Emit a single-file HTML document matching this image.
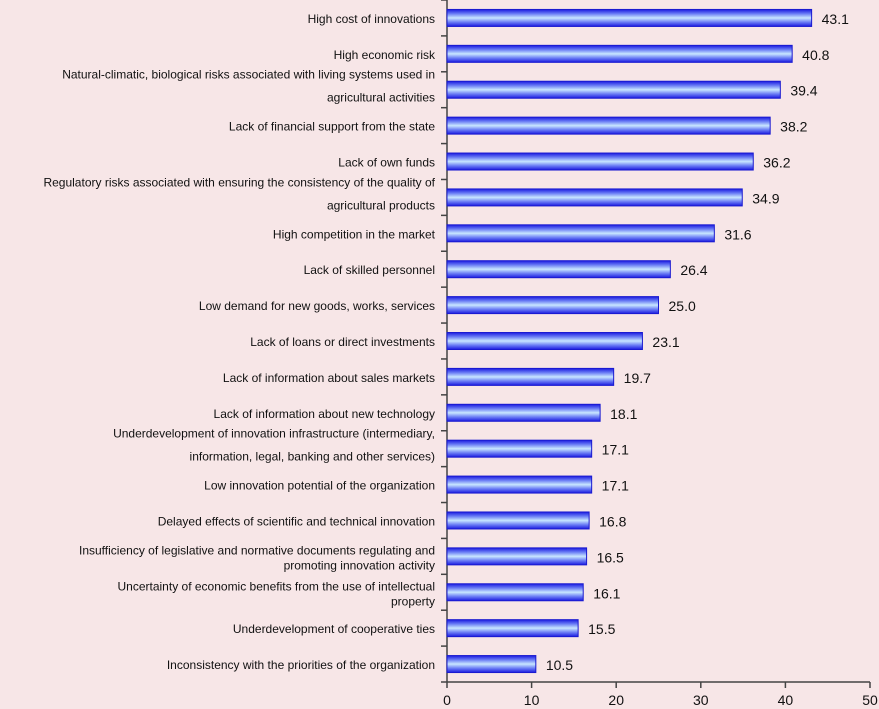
<!DOCTYPE html>
<html><head><meta charset="utf-8"><style>
html,body{margin:0;padding:0;background:#f7e6e7;}
svg{display:block;font-family:"Liberation Sans",Arial,sans-serif;}
</style></head><body>
<svg id="chart" width="879" height="709">
<defs>
<linearGradient id="bg" x1="0" y1="0" x2="0" y2="1">
<stop offset="0" stop-color="#1a1ae0"/><stop offset="0.25" stop-color="#6a7cf5"/>
<stop offset="0.5" stop-color="#c8e6ff"/><stop offset="0.75" stop-color="#6a7cf5"/>
<stop offset="1" stop-color="#1a1ae0"/></linearGradient>
</defs>
<g id="plot"></g>
</svg>
<script>
const categories=[
["High cost of innovations"],
["High economic risk"],
["Natural-climatic, biological risks associated with living systems used in","agricultural activities"],
["Lack of financial support from the state"],
["Lack of own funds"],
["Regulatory risks associated with ensuring the consistency of the quality of","agricultural products"],
["High competition in the market"],
["Lack of skilled personnel"],
["Low demand for new goods, works, services"],
["Lack of loans or direct investments"],
["Lack of information about sales markets"],
["Lack of information about new technology"],
["Underdevelopment of innovation infrastructure (intermediary,","information, legal, banking and other services)"],
["Low innovation potential of the organization"],
["Delayed effects of scientific and technical innovation"],
["Insufficiency of legislative and normative documents regulating and","promoting innovation activity"],
["Uncertainty of economic benefits from the use of intellectual","property"],
["Underdevelopment of cooperative ties"],
["Inconsistency with the priorities of the organization"]];
const values=[43.1,40.8,39.4,38.2,36.2,34.9,31.6,26.4,25.0,23.1,19.7,18.1,17.1,17.1,16.8,16.5,16.1,15.5,10.5];
const xTicks=[0,10,20,30,40,50];
const ns="http://www.w3.org/2000/svg";
const g=document.getElementById('plot');
const X0=447,X1=870,Y0=0,Y1=682;
const band=(Y1-Y0)/values.length;
const x=v=>X0+(v/50)*(X1-X0);
const yc=i=>Y0+band*(i+0.5);
function mk(t,a){const e=document.createElementNS(ns,t);for(const k in a)e.setAttribute(k,a[k]);g.appendChild(e);return e;}
let ax=mk('line',{x1:X0,y1:Y0,x2:X0,y2:Y1,stroke:'#444','stroke-width':1.5});


let bx=mk('line',{x1:X0,y1:Y1,x2:X1,y2:Y1,stroke:'#444','stroke-width':1.5});


for(let i=0;i<=values.length;i++){
 const t=mk('line',{x1:X0-6,x2:X0,y1:Y0+band*i,y2:Y0+band*i,stroke:'#444','stroke-width':1.5});
 
 
}
xTicks.forEach(v=>{
 const t=mk('line',{x1:x(v),x2:x(v),y1:Y1,y2:Y1+6,stroke:'#444','stroke-width':1.5});
 
 
 const l=mk('text',{x:x(v),y:Y1+23,'text-anchor':'middle','font-size':14,fill:'#111'});
 l.textContent=v;
 
 
});
values.forEach((v,i)=>{
 const c=yc(i);
 const r=mk('rect',{x:X0,y:c-8.5,width:x(v)-X0,height:17,fill:'url(#bg)',stroke:'#1a1ad0','stroke-width':1});
 
 
 const vl=mk('text',{x:x(v)+10,y:c+6,'font-size':14,fill:'#111'});
 vl.textContent=v.toFixed(1);
 
 
 const lines=categories[i];
 const offs=lines.length===1?[5]:(i>=15?[-2,13]:[-11,12]);
 lines.forEach((s,j)=>{
  const t=mk('text',{x:435,y:c+offs[j],'text-anchor':'end','font-size':12,fill:'#111'});
  t.textContent=s;
  
  
 });
});
</script>
</body></html>
